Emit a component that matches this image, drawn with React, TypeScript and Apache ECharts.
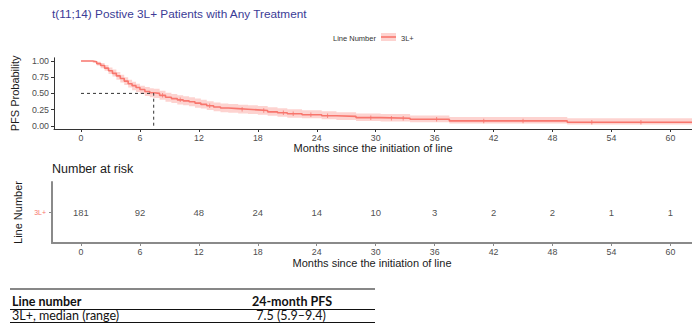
import React, { useEffect, useRef } from 'react';
import * as echarts from 'echarts';

// ---- data ----
const chartTitle = 't(11;14) Postive 3L+ Patients with Any Treatment';
const kmTime = [0, 1.2, 1.6, 2.0, 2.4, 2.8, 3.2, 3.6, 4.0, 4.4, 4.8, 5.2, 5.6, 6.0, 6.5, 7.0, 7.4, 8.0, 8.6, 9.2, 9.8, 10.4, 11.0, 11.6, 12.2, 12.8, 13.5, 14.2, 15.0, 16.0, 17.0, 18.0, 19.0, 20.0, 21.0, 22.5, 24.5, 26.0, 28.0, 30.5, 33.5, 37.5, 49.5];
const kmSurv = [1.0, 0.99, 0.96, 0.93, 0.89, 0.85, 0.81, 0.77, 0.73, 0.69, 0.65, 0.62, 0.59, 0.56, 0.53, 0.51, 0.50, 0.47, 0.44, 0.42, 0.40, 0.385, 0.37, 0.35, 0.33, 0.31, 0.29, 0.275, 0.265, 0.255, 0.245, 0.235, 0.215, 0.20, 0.185, 0.17, 0.155, 0.145, 0.125, 0.115, 0.10, 0.075, 0.055];
const kmLower = [1.0, 0.97, 0.93, 0.89, 0.85, 0.80, 0.76, 0.71, 0.67, 0.63, 0.59, 0.55, 0.52, 0.49, 0.46, 0.44, 0.43, 0.40, 0.37, 0.35, 0.33, 0.315, 0.30, 0.28, 0.265, 0.245, 0.225, 0.21, 0.20, 0.19, 0.18, 0.17, 0.155, 0.14, 0.125, 0.115, 0.10, 0.09, 0.075, 0.065, 0.055, 0.035, 0.02];
const kmUpper = [1.0, 1.0, 0.99, 0.97, 0.94, 0.90, 0.87, 0.83, 0.79, 0.75, 0.71, 0.68, 0.65, 0.62, 0.60, 0.58, 0.57, 0.54, 0.51, 0.49, 0.47, 0.455, 0.44, 0.42, 0.40, 0.38, 0.36, 0.345, 0.335, 0.325, 0.315, 0.305, 0.285, 0.27, 0.255, 0.24, 0.225, 0.21, 0.19, 0.18, 0.16, 0.135, 0.115];
const censorTimes = [8.3, 10.1, 13.1, 16.4, 18.6, 20.6, 21.6, 23.4, 25.1, 29.5, 31.6, 32.8, 36.2, 41, 45, 52, 57];
const medianTime = 7.4;
const xTicks = [0, 6, 12, 18, 24, 30, 36, 42, 48, 54, 60];
const yTicks = [0, 0.25, 0.5, 0.75, 1];
const riskGroup = ['3L+'];
const riskTimes = [0, 6, 12, 18, 24, 30, 36, 42, 48, 54, 60];
const riskCounts = [181, 92, 48, 24, 14, 10, 3, 2, 2, 1, 1];
const tableHeader = ['Line number', '24-month PFS'];
const tableRow = ['3L+, median (range)', '7.5 (5.9\u20139.4)'];

const X_MIN_TOP = -2.75;
const X_MIN_BOT = -2.95;
const X_MAX = 62.2;
const RED = '#F8766D';
const FONT = '"Liberation Sans", Arial, sans-serif';
const TFONT = 'Lato, "Open Sans", sans-serif';

function survAt(t: number): number {
  let v = kmSurv[0];
  for (let i = 0; i < kmTime.length; i++) if (kmTime[i] <= t) v = kmSurv[i];
  return v;
}

export default function App() {
  const ref = useRef<HTMLDivElement>(null);
  useEffect(() => {
    if (!ref.current) return;
    const chart = echarts.init(ref.current, null, { renderer: 'svg' });
    const kmLine = kmTime.map((t, i) => [t, kmSurv[i]]);
    kmLine.push([X_MAX, kmSurv[kmSurv.length - 1]]);

    const option: any = {
      animation: false,
      backgroundColor: '#ffffff',
      textStyle: { fontFamily: FONT },
      grid: [
        { left: 54, top: 57.8, width: 638, height: 71.2 },
        { left: 52, top: 182, width: 640, height: 61 },
      ],
      xAxis: [
        {
          type: 'value', gridIndex: 0, min: X_MIN_TOP, max: X_MAX,
          axisLine: { show: true, onZero: false, lineStyle: { color: '#333', width: 1 } },
          axisTick: { show: true, length: 3, customValues: xTicks, lineStyle: { color: '#333' } },
          axisLabel: { customValues: xTicks, fontSize: 8.8, color: '#4d4d4d', margin: 4, fontFamily: FONT },
          splitLine: { show: false },
          name: 'Months since the initiation of line', nameLocation: 'middle', nameGap: 12,
          nameTextStyle: { fontSize: 11, color: '#1a1a1a', fontFamily: FONT, verticalAlign: 'top' },
        },
        {
          type: 'value', gridIndex: 1, min: X_MIN_BOT, max: X_MAX,
          axisLine: { show: true, onZero: false, lineStyle: { color: '#8a8a8a', width: 2 } },
          axisTick: { show: true, length: 3, customValues: xTicks, lineStyle: { color: '#8a8a8a' } },
          axisLabel: { customValues: xTicks, fontSize: 8.8, color: '#4d4d4d', margin: 4, fontFamily: FONT },
          splitLine: { show: false },
          name: 'Months since the initiation of line', nameLocation: 'middle', nameGap: 14,
          nameTextStyle: { fontSize: 11, color: '#1a1a1a', fontFamily: FONT, verticalAlign: 'top' },
        },
      ],
      yAxis: [
        {
          type: 'value', gridIndex: 0, min: -0.05, max: 1.05,
          axisLine: { show: true, onZero: false, lineStyle: { color: '#333', width: 1 } },
          axisTick: { show: true, length: 3, customValues: yTicks, lineStyle: { color: '#333' } },
          axisLabel: { customValues: yTicks, fontSize: 8.8, color: '#4d4d4d', margin: 5, fontFamily: FONT,
            formatter: (v: number) => v.toFixed(2) },
          splitLine: { show: false },
          name: 'PFS Probability', nameLocation: 'middle', nameGap: 30,
          nameTextStyle: { fontSize: 11, color: '#1a1a1a', fontFamily: FONT },
        },
        {
          type: 'category', gridIndex: 1, data: riskGroup,
          axisLine: { show: true, onZero: false, lineStyle: { color: '#8a8a8a', width: 2 } },
          axisTick: { show: true, length: 3, alignWithLabel: true, lineStyle: { color: '#8a8a8a' } },
          axisLabel: { fontSize: 7, color: RED, margin: 6, fontFamily: FONT },
          splitLine: { show: false },
          name: 'Line Number', nameLocation: 'middle', nameGap: 23,
          nameTextStyle: { fontSize: 11, color: '#1a1a1a', fontFamily: FONT },
        },
      ],
      series: [
        {
          type: 'custom', xAxisIndex: 0, yAxisIndex: 0, data: [[0, 0]], silent: true, z: 1, clip: true,
          renderItem: (params: any, api: any) => {
            const up: number[][] = [];
            const lo: number[][] = [];
            for (let i = 0; i < kmTime.length; i++) {
              const t0 = kmTime[i];
              const t1 = i + 1 < kmTime.length ? kmTime[i + 1] : X_MAX;
              up.push(api.coord([t0, kmUpper[i]]), api.coord([t1, kmUpper[i]]));
              lo.push(api.coord([t0, kmLower[i]]), api.coord([t1, kmLower[i]]));
            }
            return {
              type: 'polygon',
              shape: { points: up.concat(lo.reverse()) },
              style: { fill: 'rgba(248,118,109,0.32)' },
            };
          },
        },
        {
          type: 'line', name: '3L+', xAxisIndex: 0, yAxisIndex: 0, step: 'end', data: kmLine,
          showSymbol: false, lineStyle: { color: RED, width: 1.6 }, itemStyle: { color: RED }, z: 3,
        },
        {
          type: 'scatter', xAxisIndex: 0, yAxisIndex: 0, symbol: 'rect', symbolSize: [1, 4.5],
          data: censorTimes.map((t) => [t, survAt(t)]), itemStyle: { color: RED }, z: 4, silent: true,
        },
        {
          type: 'line', xAxisIndex: 0, yAxisIndex: 0, data: [[0, 0.5], [medianTime, 0.5], [medianTime, 0]],
          showSymbol: false, lineStyle: { color: '#333', width: 1, type: [3, 3] }, z: 5, silent: true,
        },
        {
          type: 'scatter', xAxisIndex: 1, yAxisIndex: 1, symbolSize: 1,
          itemStyle: { color: 'transparent' },
          data: riskTimes.map((t, i) => [t, riskGroup[0], riskCounts[i]]),
          label: { show: true, position: 'inside', formatter: (p: any) => String(p.value[2]),
            fontSize: 9.5, color: '#222', fontFamily: FONT },
          silent: true,
        },
      ],
      graphic: [
        { type: 'text', left: 52, top: 8, style: { text: chartTitle, fontSize: 11.8, fill: '#3b3b96', fontFamily: FONT } },
        { type: 'text', left: 333, top: 34, style: { text: 'Line Number', fontSize: 7.5, fill: '#333', fontFamily: FONT } },
        { type: 'rect', shape: { x: 381, y: 33, width: 15, height: 8 }, style: { fill: 'rgba(248,118,109,0.32)' } },
        { type: 'line', shape: { x1: 381, y1: 37, x2: 396, y2: 37 }, style: { stroke: RED, lineWidth: 1.6 } },
        { type: 'text', left: 401, top: 34, style: { text: '3L+', fontSize: 7.5, fill: '#333', fontFamily: FONT } },
        { type: 'text', left: 52, top: 162, style: { text: 'Number at risk', fontSize: 12.5, fill: '#1a1a1a', fontFamily: FONT } },
        // table
        { type: 'line', shape: { x1: 10, y1: 289, x2: 375, y2: 289 }, style: { stroke: '#111', lineWidth: 1.2 } },
        { type: 'text', x: 12, y: 301, style: { text: tableHeader[0], fontSize: 12.5, lineHeight: 12, fontWeight: 'bold', fill: '#111', fontFamily: TFONT, verticalAlign: 'middle' } },
        { type: 'text', x: 292, y: 301, style: { text: tableHeader[1], fontSize: 12.5, lineHeight: 12, fontWeight: 'bold', fill: '#111', fontFamily: TFONT, align: 'center', verticalAlign: 'middle' } },
        { type: 'line', shape: { x1: 10, y1: 309.5, x2: 375, y2: 309.5 }, style: { stroke: '#111', lineWidth: 1 } },
        { type: 'text', x: 12, y: 315.5, style: { text: tableRow[0], fontSize: 12.5, lineHeight: 12, fill: '#111', fontFamily: TFONT, verticalAlign: 'middle' } },
        { type: 'text', x: 291, y: 315.5, style: { text: tableRow[1], fontSize: 12.5, lineHeight: 12, fill: '#111', fontFamily: TFONT, align: 'center', verticalAlign: 'middle' } },
        { type: 'line', shape: { x1: 10, y1: 322.5, x2: 375, y2: 322.5 }, style: { stroke: '#111', lineWidth: 1.2 } },
      ],
    };
    chart.setOption(option);
    return () => chart.dispose();
  }, []);
  return <div ref={ref} style={{ position: 'fixed', left: 0, top: 0, width: 692, height: 335, background: '#fff' }} />;
}
